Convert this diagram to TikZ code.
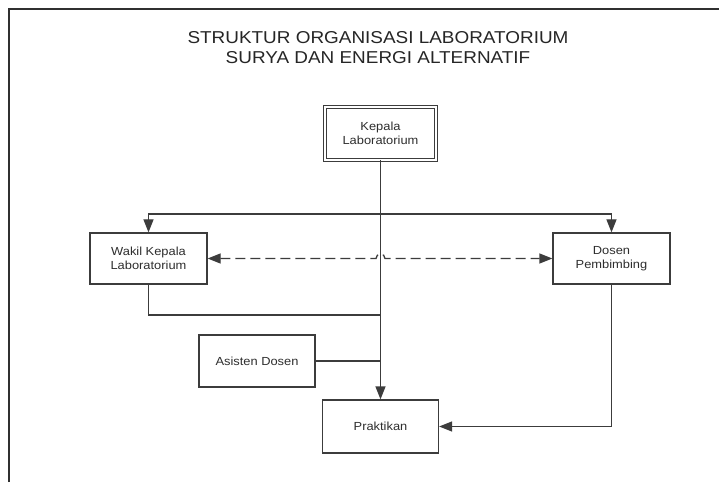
\documentclass[tikz,border=0pt]{standalone}
\usepackage{fontspec}
\setmainfont{Liberation Sans}[FakeStretch=1.1]
\usetikzlibrary{arrows.meta,calc}
\definecolor{linegray}{HTML}{3C3C3C}
\definecolor{textgray}{HTML}{2E2E2E}
\begin{document}
\begin{tikzpicture}[x=1pt,y=1pt,
  box/.style={draw=linegray, line width=1.3pt, fill=white, minimum width=117pt, minimum height=51pt,
    inner sep=0pt, align=center, text=textgray, font=\fontsize{11.7pt}{14pt}\selectfont},
  conn/.style={draw=linegray, line width=1.3pt},
  tip/.tip={Triangle[length=13pt,width=10pt]},
  arr/.style={conn, -tip},
  dasharr/.style={conn, dash pattern=on 10pt off 5pt, tip-tip},
  titletext/.style={align=center, text=black!85, font=\fontsize{17.2pt}{19.5pt}\selectfont, inner sep=0pt}
]
\useasboundingbox (0,0) rectangle (719,482);
\fill[white] (0,0) rectangle (719,482);
% frame
\draw[linegray!80!black, line width=2pt] (9,0) -- (9,473) -- (719,473);

% title
\node[titletext] (title) at (378,434.5) {STRUKTUR ORGANISASI LABORATORIUM\\SURYA DAN ENERGI ALTERNATIF};

% nodes
\node[box, double, double distance=2pt, line width=0.9pt, minimum width=111pt, minimum height=53pt] (kepala) at (380.5,348.5) {Kepala\\Laboratorium};
\node[box] (wakil) at (148.5,223.5) {Wakil Kepala\\Laboratorium};
\node[box] (dosen) at (611.5,223.5) {Dosen\\Pembimbing};
\node[box, minimum width=116pt, minimum height=52pt] (asisten) at (257,121) {Asisten Dosen};
\node[box, minimum width=116pt, minimum height=53pt] (praktikan) at (380.5,55.5) {Praktikan};

% junction coordinates
\coordinate (j1) at (380.5,268);
\coordinate (j2) at (380.5,167);
\coordinate (j3) at (kepala.south |- asisten.east);
\coordinate (hopL) at (376,223.5);

% main spine
\draw[arr] (kepala.south) -- (praktikan.north);
% branches
\draw[arr] (j1) -| (wakil.north);
\draw[arr] (j1) -| (dosen.north);
% wakil to spine
\draw[conn] (wakil.south) |- (j2);
% asisten to spine
\draw[conn] (asisten.east) -- (j3);
% dosen to praktikan
\draw[arr] (dosen.south) |- (praktikan.east);
% dashed coordination with line hop
\draw[dasharr] (wakil.east) -- (hopL) arc[start angle=180, end angle=0, radius=4.5pt] -- (dosen.west);
\end{tikzpicture}
\end{document}
